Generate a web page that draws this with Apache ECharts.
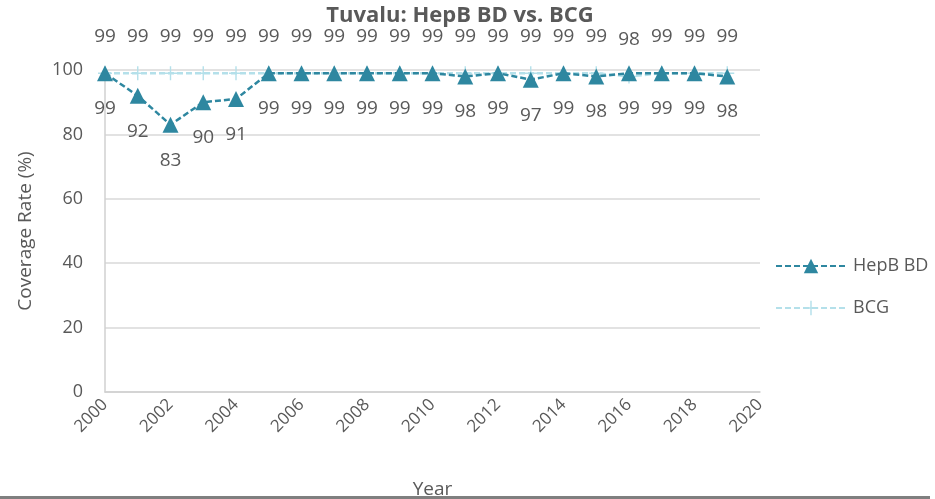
<!DOCTYPE html>
<html>
<head>
<meta charset="utf-8">
<script src="https://cdn.jsdelivr.net/npm/echarts@6/dist/echarts.min.js"></script>
<style>
  html, body { margin: 0; padding: 0; background: #fff; }
  #chart { width: 935px; height: 499px; }
</style>
</head>
<body>
<div id="chart"></div>
<script>
// Tuvalu coverage, 2000-2019
const years = [2000, 2001, 2002, 2003, 2004, 2005, 2006, 2007, 2008, 2009,
  2010, 2011, 2012, 2013, 2014, 2015, 2016, 2017, 2018, 2019]
const hepbBD = [99, 92, 83, 90, 91, 99, 99, 99, 99, 99, 99, 98, 99, 97, 99, 98, 99, 99, 99, 98]
const bcg = [99, 99, 99, 99, 99, 99, 99, 99, 99, 99, 99, 99, 99, 99, 99, 99, 98, 99, 99, 99]

const txt = '#595959'
const font = '"Open Sans", "Noto Sans", sans-serif'

const pairs = (vals) => years.map((y, i) => [y, vals[i]])

const option = {
  animation: false,
  textStyle: { fontFamily: font },
  title: {
    text: 'Tuvalu: HepB BD vs. BCG',
    left: 455,
    textAlign: 'center',
    top: 0,
    textStyle: { color: txt, fontSize: 22, fontWeight: 'bold', fontFamily: font },
  },
  grid: { left: 105, right: 175, top: 70, bottom: 107, containLabel: false, outerBoundsMode: 'none' },
  legend: {
    orient: 'vertical',
    left: 770,
    top: 252,
    itemGap: 24,
    itemWidth: 70,
    itemHeight: 18,
    textStyle: { color: txt, fontSize: 18, padding: [0, 0, 0, 2] },
    data: ['HepB BD', 'BCG'],
  },
  graphic: [
    { type: 'rect', left: 0, bottom: 0, shape: { width: 930, height: 3 }, style: { fill: '#7f7f7f' } },
  ],
  xAxis: {
    type: 'value',
    min: 2000,
    max: 2020,
    interval: 2,
    name: 'Year',
    nameLocation: 'middle',
    nameGap: 88,
    nameTextStyle: { color: txt, fontSize: 19 },
    axisLine: { show: true, lineStyle: { color: '#d0d0d0', width: 1.5 } },
    axisTick: { show: false },
    splitLine: { show: false },
    axisLabel: { color: txt, fontSize: 17, rotate: 45, margin: 10, formatter: (v) => String(v) },
  },
  yAxis: {
    type: 'value',
    min: 0,
    max: 100,
    interval: 20,
    name: 'Coverage Rate (%)',
    nameLocation: 'middle',
    nameGap: 70,
    nameTextStyle: { color: txt, fontSize: 19 },
    axisLine: { show: true, lineStyle: { color: '#d0d0d0', width: 1.5 } },
    axisTick: { show: false },
    splitLine: { lineStyle: { color: '#d9d9d9', width: 1.5 } },
    axisLabel: { color: txt, fontSize: 18, margin: 22 },
  },
  series: [
    {
      name: 'BCG',
      type: 'line',
      data: pairs(bcg),
      symbol: 'path://M-1,-10 L1,-10 L1,-1 L10,-1 L10,1 L1,1 L1,10 L-1,10 L-1,1 L-10,1 L-10,-1 L-1,-1 Z',
      symbolSize: 14,
      lineStyle: { color: '#b4e0ea', width: 2.5, type: [6, 3] },
      itemStyle: { color: '#b4e0ea' },
      label: {
        show: true,
        position: 'top',
        distance: 20,
        color: txt,
        fontSize: 19,
      },
      z: 2,
    },
    {
      name: 'HepB BD',
      type: 'line',
      data: pairs(hepbBD),
      symbol: 'triangle',
      symbolSize: 16,
      lineStyle: { color: '#2e87a0', width: 2.5, type: [6, 3] },
      itemStyle: { color: '#2e87a0' },
      label: {
        show: true,
        position: 'bottom',
        distance: 18,
        color: txt,
        fontSize: 19,
      },
      z: 3,
    },
  ],
}

const c = echarts.init(document.getElementById('chart'))
c.setOption(option)
</script>
</body>
</html>
